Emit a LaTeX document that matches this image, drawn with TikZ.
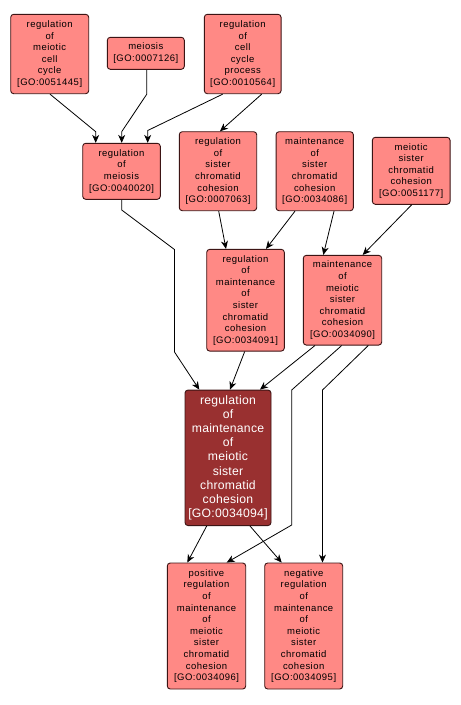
\documentclass[tikz,border=0pt]{standalone}
\usepackage{fontspec}
\setmainfont{Liberation Sans}
\newfontfamily\lightfont[LetterSpace=5]{Liberation Sans}
\newfontfamily\darkfont[LetterSpace=2]{Liberation Sans}
\usetikzlibrary{arrows.meta}
\definecolor{lightfill}{RGB}{255,137,133}
\definecolor{darkfill}{RGB}{153,48,48}
\definecolor{boxline}{RGB}{60,20,20}
\tikzset{
  term/.style={draw=boxline, line width=0.9pt, rounded corners=3pt, fill=lightfill,
    align=center, inner sep=0pt, text=black,
    font=\lightfont\fontsize{9.5}{11.6}\selectfont},
  focus/.style={draw=boxline, line width=0.9pt, rounded corners=3pt, fill=darkfill,
    align=center, inner sep=0pt, text=white,
    font=\darkfont\fontsize{12.2}{14.1}\selectfont},
  arr/.style={draw=black, line width=0.8pt, -{Stealth[length=8pt,width=7pt,inset=2.5pt]}}
}
\begin{document}
\begin{tikzpicture}[x=1pt,y=-1pt]
\useasboundingbox[fill=white] (0,0) rectangle (461,705);
% nodes
\node[term, minimum width=78pt, minimum height=79.4pt] (A) at (49.7,54) {regulation\\of\\meiotic\\cell\\cycle\\{}[GO:0051445]};
\node[term, minimum width=77pt, minimum height=32pt] (B) at (145.8,53.3) {meiosis\\{}[GO:0007126]};
\node[term, minimum width=76.7pt, minimum height=79.4pt] (C) at (242.7,54) {regulation\\of\\cell\\cycle\\process\\{}[GO:0010564]};
\node[term, minimum width=77.6pt, minimum height=56pt] (D) at (121.5,171.3) {regulation\\of\\meiosis\\{}[GO:0040020]};
\node[term, minimum width=77.4pt, minimum height=79pt] (E) at (218,171.2) {regulation\\of\\sister\\chromatid\\cohesion\\{}[GO:0007063]};
\node[term, minimum width=77.3pt, minimum height=79pt] (F) at (314.7,171.2) {maintenance\\of\\sister\\chromatid\\cohesion\\{}[GO:0034086]};
\node[term, minimum width=77.7pt, minimum height=67pt] (G) at (411.2,170.8) {meiotic\\sister\\chromatid\\cohesion\\{}[GO:0051177]};
\node[term, minimum width=77.6pt, minimum height=101.7pt] (H) at (245.5,300.2) {regulation\\of\\maintenance\\of\\sister\\chromatid\\cohesion\\{}[GO:0034091]};
\node[term, minimum width=78.4pt, minimum height=89.7pt] (I) at (342.5,300.2) {maintenance\\of\\meiotic\\sister\\chromatid\\cohesion\\{}[GO:0034090]};
\node[focus, minimum width=86pt, minimum height=135.5pt] (J) at (228,457.8) {regulation\\of\\maintenance\\of\\meiotic\\sister\\chromatid\\cohesion\\{}[GO:0034094]};
\node[term, minimum width=78.4pt, minimum height=126pt] (K) at (206.5,626) {positive\\regulation\\of\\maintenance\\of\\meiotic\\sister\\chromatid\\cohesion\\{}[GO:0034096]};
\node[term, minimum width=78pt, minimum height=126pt] (L) at (303.7,626) {negative\\regulation\\of\\maintenance\\of\\meiotic\\sister\\chromatid\\cohesion\\{}[GO:0034095]};
% edges
\draw[arr] (A.south -| 50,0) -- (95.7,131.7) -- (D.north -| 95.7,0);
\draw[arr] (B.south -| 146.7,0) -- (146.7,94.3) -- (121.7,131.7) -- (D.north -| 121.7,0);
\draw[arr] (C.south -| 222.7,0) -- (147.7,130.5) -- (D.north -| 147.7,0);
\draw[arr] (C.south -| 261.7,0) -- (E.north -| 220,0);
\draw[arr] (D.south -| 121.7,0) -- (121.7,210) -- (174.5,249.5) -- (174.5,352) -- (J.north -| 199.3,0);
\draw[arr] (E.south -| 218.7,0) -- (H.north -| 226,0);
\draw[arr] (F.south -| 295,0) -- (H.north -| 266,0);
\draw[arr] (F.south -| 334,0) -- (I.north -| 323.3,0);
\draw[arr] (G.south -| 411.7,0) -- (I.north -| 362.7,0);
\draw[arr] (H.south -| 244.7,0) -- (J.north -| 230,0);
\draw[arr] (I.south -| 315,0) -- (J.north -| 260,0);
\draw[arr] (I.south -| 341.7,0) -- (291.7,390) -- (291.7,525) -- (K.north -| 226.7,0);
\draw[arr] (I.south -| 368.3,0) -- (322.5,390) -- (L.north -| 322.5,0);
\draw[arr] (J.south -| 206.7,0) -- (K.north -| 187.3,0);
\draw[arr] (J.south -| 250,0) -- (L.north -| 281.7,0);
\end{tikzpicture}
\end{document}
